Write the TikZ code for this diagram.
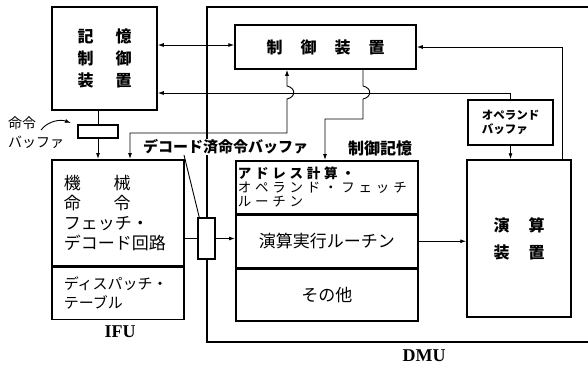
\documentclass[tikz,border=0pt]{standalone}
\usepackage{fontspec}
\setmainfont{Liberation Serif}
\newfontfamily\jp{Noto Sans CJK JP}
\newfontfamily\jpw[LetterSpace=28]{Noto Sans CJK JP}
\usetikzlibrary{arrows.meta}
\begin{document}
\begin{tikzpicture}[x=1pt,y=-1pt,
  box/.style={draw,line width=1.5pt,inner sep=0pt},
  conn/.style={line width=0.9pt},
  arr/.style={conn,-{Latex[length=6pt,width=4pt]}},
  darr/.style={conn,{Latex[length=6pt,width=4pt]}-{Latex[length=6pt,width=4pt]}},
  lbl/.style={inner sep=0pt}
]
\useasboundingbox (0,0) rectangle (588,365);

% helper coordinates
\coordinate (y45) at (0,45);
\coordinate (y86) at (0,86);
\coordinate (y93) at (0,93);
\coordinate (y99) at (0,99);
\coordinate (y119) at (0,119);
\coordinate (y133) at (0,133);
\coordinate (xA) at (287,0);
\coordinate (xB) at (363,0);
\coordinate (xC) at (325,0);
\coordinate (xD) at (130,0);
\coordinate (xE) at (562,0);

% DMU boundary
\draw[line width=1.1pt] (588,7) -- (207,7) -- (207,342) -- (588,342);

% boxes
\node[box,minimum width=105pt,minimum height=103pt,align=center,
  font={\jp\bfseries\fontsize{16}{22}\selectfont}] (mem) at (104.5,58.5)
  {記\hspace{22pt}憶\\制\hspace{22pt}御\\装\hspace{22pt}置};
\node[box,minimum width=181pt,minimum height=44pt,
  font={\jp\bfseries\fontsize{16}{20}\selectfont}] (ctrl) at (325.5,47)
  {制\hspace{18pt}御\hspace{18pt}装\hspace{18pt}置};
\node[box,minimum width=85pt,minimum height=45pt,align=left,
  font={\jp\bfseries\fontsize{11.5}{13.5}\selectfont}] (opbuf) at (510.5,122.5)
  {オペランド\\バッファ};
\node[box,minimum width=104pt,minimum height=157pt,align=center,
  font={\jp\bfseries\fontsize{16}{27}\selectfont}] (alu) at (519,238.5)
  {演\hspace{19pt}算\\装\hspace{19pt}置};

\node[box,minimum width=182pt,minimum height=53pt,text width=178pt,inner xsep=2pt,
  align=left,anchor=north west,font={\jpw\fontsize{13.5}{14}\selectfont}] (addr) at (235,160)
  {{\bfseries アドレス計算・}\\オペランド・フェッチ\\ルーチン};
\node[box,minimum width=182pt,minimum height=52pt,anchor=north west,
  font={\jp\fontsize{17}{20}\selectfont}] (exec) at (addr.south west) {演算実行ルーチン};
\node[box,minimum width=182pt,minimum height=52pt,anchor=north west,
  font={\jp\fontsize{17}{20}\selectfont}] (other) at (exec.south west) {その他};

\node[box,minimum width=132pt,minimum height=106pt,text width=108pt,inner xsep=12pt,
  align=left,anchor=north west,font={\jp\fontsize{17}{20}\selectfont}] (ifu1) at (51,159)
  {機\hspace{33pt}械\\命\hspace{33pt}令\\フェッチ・\\デコード回路};
\node[box,minimum width=132pt,minimum height=52pt,text width=108pt,inner xsep=12pt,
  align=left,anchor=north west,font={\jp\fontsize{15}{19}\selectfont}] (ifu2) at (ifu1.south west)
  {ディスパッチ・\\テーブル};

\node[box,minimum width=40pt,minimum height=13pt] (ibuf) at (98,131.5) {};
\node[box,fill=white,minimum width=17pt,minimum height=41pt] (dbuf) at (206.5,238.5) {};

% labels
\node[lbl,anchor=west,align=left,font={\jp\fontsize{14}{19}\selectfont}] (ilbl) at (8,133) {命令\\バッファ};
\node[fill=white,inner sep=1pt,anchor=west,font={\jp\bfseries\fontsize{15}{17}\selectfont}] (dlbl) at (142,147) {デコード済命令バッファ};
\node[lbl,anchor=west,font={\jp\bfseries\fontsize{16}{18}\selectfont}] (cslbl) at (348,148) {制御記憶};
\node[lbl,font={\bfseries\fontsize{18}{20}\selectfont}] (ifulbl) at (120,332) {IFU};
\node[lbl,font={\bfseries\fontsize{18}{20}\selectfont}] (dmulbl) at (424,356) {DMU};

\coordinate (ia) at (41,130);
\coordinate (ib) at (71,123);
\coordinate (lead) at (184,155);

% connectors
\draw[darr] (mem.east |- y45) -- (ctrl.west |- y45);
\draw[arr] (opbuf.north) -- (opbuf.north |- y93) -- (mem.east |- y93);
\draw[darr] (ifu1.north -| xD) -- (xD |- y133) -- (xA |- y133) -- (xA |- y99)
  .. controls +(9,-2) and +(9,2) .. (xA |- y86) -- (ctrl.south -| xA);
\draw[arr] (ctrl.south -| xB) -- (xB |- y86) .. controls +(9,2) and +(9,-2) .. (xB |- y99)
  -- (xB |- y119) -- (xC |- y119) -- (addr.north -| xC);
\draw[arr] (alu.north -| xE) |- (ctrl.east);
\draw[arr] (opbuf.south) -- (opbuf.south |- alu.north);
\draw[conn] (ibuf.north |- mem.south) -- (ibuf.north);
\draw[arr] (ibuf.south) -- (ibuf.south |- ifu1.north);
\draw[conn] (ifu1.east |- dbuf.west) -- (dbuf.west);
\draw[arr] (dbuf.east) -- (dbuf.east -| exec.west);
\draw[arr] (exec.east) -- (exec.east -| alu.west);
\draw[conn] (lead) -- ([xshift=2pt]dbuf.north west);
\draw[arr] (ia) .. controls (48,121) and (60,119) .. (ib);
\end{tikzpicture}
\end{document}
